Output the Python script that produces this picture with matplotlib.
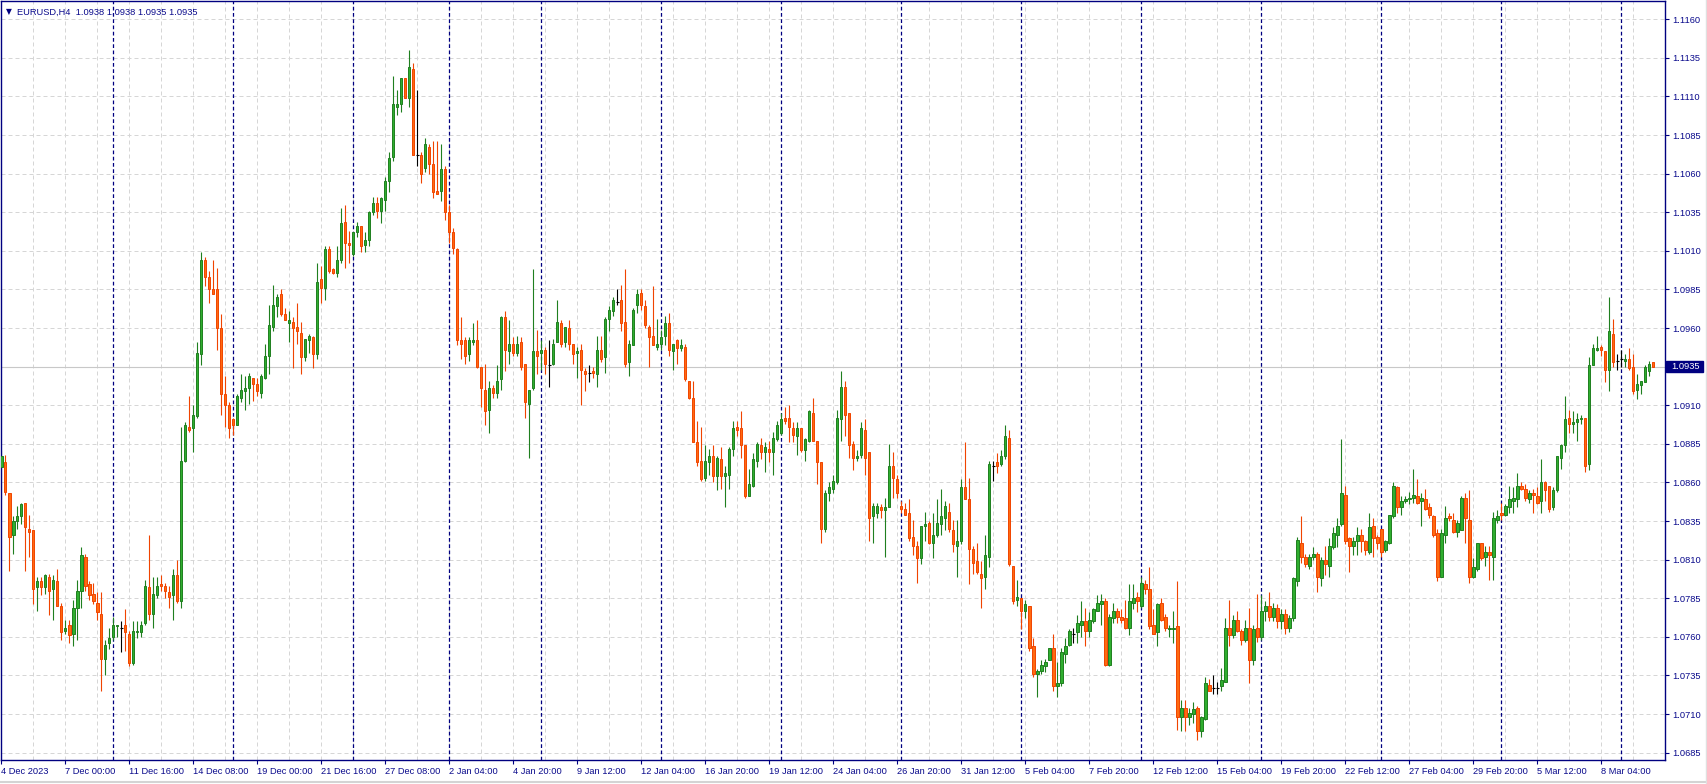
import numpy as np
import matplotlib
matplotlib.use("Agg")
from matplotlib import pyplot as plt
from matplotlib.patches import Rectangle
from matplotlib.lines import Line2D

# EURUSD H4 candles (open / high / low / close)
opens = [
    1.0870, 1.0873, 1.0853, 1.0826, 1.0835, 1.0838, 1.0847, 1.0830, 1.0829, 1.0792,
    1.0796, 1.0792, 1.0799, 1.0791, 1.0796, 1.0780, 1.0764, 1.0768, 1.0762, 1.0779,
    1.0790, 1.0812, 1.0794, 1.0788, 1.0782, 1.0775, 1.0746, 1.0756, 1.0760, 1.0767,
    1.0766, 1.0768, 1.0762, 1.0743, 1.0763, 1.0763, 1.0769, 1.0792, 1.0775, 1.0787,
    1.0794, 1.0793, 1.0789, 1.0787, 1.0800, 1.0783, 1.0874, 1.0896, 1.0895, 1.0903,
    1.0943, 1.1004, 1.0993, 1.0985, 1.0985, 1.0960, 1.0917, 1.0910, 1.0901, 1.0897,
    1.0915, 1.0919, 1.0921, 1.0928, 1.0924, 1.0918, 1.0928, 1.0942, 1.0961, 1.0974,
    1.0982, 1.0969, 1.0963, 1.0964, 1.0961, 1.0957, 1.0941, 1.0952, 1.0954, 1.0943,
    1.0992, 1.0986, 1.1011, 1.0998, 1.0996, 1.1004, 1.1029, 1.1015, 1.1008, 1.1022,
    1.1026, 1.1014, 1.1017, 1.1035, 1.1041, 1.1036, 1.1043, 1.1055, 1.1071, 1.1103,
    1.1105, 1.1122, 1.1109, 1.1128, 1.1072, 1.1072, 1.1064, 1.1077, 1.1066, 1.1049,
    1.1049, 1.1063, 1.1035, 1.1022, 1.1011, 1.0952, 1.0952, 1.0943, 1.0951, 1.0952,
    1.0935, 1.0920, 1.0907, 1.0921, 1.0918, 1.0927, 1.0967, 1.0945, 1.0950, 1.0944,
    1.0951, 1.0937, 1.0911, 1.0921, 1.0945, 1.0944, 1.0946, 1.0936, 1.0937, 1.0951,
    1.0963, 1.0951, 1.0960, 1.0950, 1.0944, 1.0946, 1.0932, 1.0931, 1.0932, 1.0930,
    1.0946, 1.0941, 1.0966, 1.0971, 1.0977, 1.0978, 1.0964, 1.0938, 1.0949, 1.0975,
    1.0983, 1.0974, 1.0961, 1.0955, 1.0948, 1.0950, 1.0955, 1.0963, 1.0945, 1.0952,
    1.0947, 1.0948, 1.0926, 1.0915, 1.0886, 1.0874, 1.0863, 1.0873, 1.0877, 1.0864,
    1.0875, 1.0864, 1.0865, 1.0882, 1.0896, 1.0895, 1.0884, 1.0851, 1.0858, 1.0874,
    1.0884, 1.0880, 1.0882, 1.0880, 1.0888, 1.0892, 1.0902, 1.0902, 1.0895, 1.0890,
    1.0895, 1.0881, 1.0887, 1.0905, 1.0887, 1.0873, 1.0830, 1.0853, 1.0856, 1.0860,
    1.0901, 1.0922, 1.0905, 1.0885, 1.0876, 1.0878, 1.0894, 1.0880, 1.0838, 1.0840,
    1.0844, 1.0842, 1.0844, 1.0871, 1.0862, 1.0845, 1.0843, 1.0840, 1.0825, 1.0819,
    1.0811, 1.0832, 1.0834, 1.0821, 1.0826, 1.0833, 1.0837, 1.0841, 1.0829, 1.0819,
    1.0822, 1.0857, 1.0849, 1.0817, 1.0809, 1.0801, 1.0799, 1.0812, 1.0871, 1.0873,
    1.0872, 1.0877, 1.0889, 1.0806, 1.0784, 1.0785, 1.0777, 1.0780, 1.0754, 1.0736,
    1.0738, 1.0741, 1.0745, 1.0753, 1.0728, 1.0730, 1.0749, 1.0755, 1.0762, 1.0763,
    1.0768, 1.0770, 1.0764, 1.0770, 1.0777, 1.0781, 1.0783, 1.0742, 1.0772, 1.0777,
    1.0773, 1.0772, 1.0766, 1.0782, 1.0786, 1.0780, 1.0794, 1.0791, 1.0768, 1.0763,
    1.0782, 1.0773, 1.0765, 1.0765, 1.0767, 1.0708, 1.0714, 1.0708, 1.0710, 1.0714,
    1.0699, 1.0707, 1.0729, 1.0727, 1.0727, 1.0728, 1.0731, 1.0766, 1.0761, 1.0771,
    1.0764, 1.0758, 1.0766, 1.0745, 1.0766, 1.0760, 1.0777, 1.0780, 1.0773, 1.0779,
    1.0770, 1.0775, 1.0766, 1.0772, 1.0796, 1.0821, 1.0812, 1.0806, 1.0812, 1.0814,
    1.0798, 1.0810, 1.0806, 1.0818, 1.0826, 1.0833, 1.0852, 1.0824, 1.0819, 1.0822,
    1.0826, 1.0822, 1.0815, 1.0832, 1.0825, 1.0830, 1.0816, 1.0821, 1.0838, 1.0857,
    1.0844, 1.0848, 1.0849, 1.0850, 1.0851, 1.0848, 1.0849, 1.0844, 1.0838, 1.0827,
    1.0799, 1.0826, 1.0838, 1.0836, 1.0828, 1.0829, 1.0850, 1.0836, 1.0799, 1.0804,
    1.0821, 1.0812, 1.0815, 1.0812, 1.0836, 1.0840, 1.0839, 1.0844, 1.0848, 1.0849,
    1.0858, 1.0856, 1.0849, 1.0853, 1.0851, 1.0848, 1.0860, 1.0858, 1.0844, 1.0855,
    1.0876, 1.0884, 1.0902, 1.0898, 1.0899, 1.0901, 1.0902, 1.0872, 1.0936, 1.0946,
    1.0948, 1.0945, 1.0933, 1.0956, 1.0939, 1.0940, 1.0939, 1.0940, 1.0935, 1.0920,
    1.0923, 1.0925, 1.0932, 1.0938,
]
highs = [
    1.0881, 1.0878, 1.0853, 1.0838, 1.0845, 1.0847, 1.0847, 1.0839, 1.0829, 1.0799,
    1.0799, 1.0801, 1.0801, 1.0800, 1.0804, 1.0782, 1.0771, 1.0771, 1.0784, 1.0797,
    1.0818, 1.0814, 1.0796, 1.0795, 1.0789, 1.0789, 1.0758, 1.0766, 1.0773, 1.0768,
    1.0770, 1.0778, 1.0764, 1.0770, 1.0770, 1.0770, 1.0797, 1.0826, 1.0799, 1.0799,
    1.0800, 1.0795, 1.0793, 1.0804, 1.0810, 1.0896, 1.0899, 1.0916, 1.0910, 1.0951,
    1.1009, 1.1006, 1.0997, 1.1004, 1.0999, 1.0969, 1.0929, 1.0912, 1.0902, 1.0917,
    1.0930, 1.0929, 1.0931, 1.0928, 1.0928, 1.0930, 1.0950, 1.0975, 1.0988, 1.0982,
    1.0985, 1.0973, 1.0971, 1.0967, 1.0976, 1.0964, 1.0953, 1.0956, 1.0955, 1.1002,
    1.1000, 1.1013, 1.1013, 1.0999, 1.1013, 1.1038, 1.1040, 1.1023, 1.1022, 1.1029,
    1.1026, 1.1022, 1.1036, 1.1045, 1.1045, 1.1045, 1.1058, 1.1074, 1.1123, 1.1114,
    1.1122, 1.1122, 1.1140, 1.1132, 1.1114, 1.1074, 1.1083, 1.1079, 1.1081, 1.1081,
    1.1079, 1.1065, 1.1040, 1.1025, 1.1012, 1.0967, 1.0954, 1.0954, 1.0963, 1.0965,
    1.0935, 1.0937, 1.0926, 1.0923, 1.0936, 1.0968, 1.0971, 1.0965, 1.0954, 1.0955,
    1.0954, 1.0937, 1.0920, 1.0998, 1.0959, 1.0952, 1.0948, 1.0952, 1.0953, 1.0978,
    1.0965, 1.0961, 1.0965, 1.0950, 1.0948, 1.0950, 1.0934, 1.0936, 1.0935, 1.0955,
    1.0955, 1.0967, 1.0974, 1.0980, 1.0985, 1.0988, 1.0998, 1.0952, 1.0973, 1.0985,
    1.0985, 1.0978, 1.0962, 1.0987, 1.0966, 1.0959, 1.0968, 1.0970, 1.0950, 1.0953,
    1.0953, 1.0950, 1.0926, 1.0926, 1.0900, 1.0896, 1.0884, 1.0882, 1.0884, 1.0877,
    1.0883, 1.0871, 1.0883, 1.0900, 1.0900, 1.0906, 1.0884, 1.0869, 1.0879, 1.0886,
    1.0889, 1.0886, 1.0887, 1.0893, 1.0900, 1.0905, 1.0909, 1.0910, 1.0899, 1.0899,
    1.0895, 1.0889, 1.0907, 1.0915, 1.0887, 1.0873, 1.0855, 1.0860, 1.0865, 1.0907,
    1.0932, 1.0926, 1.0905, 1.0887, 1.0881, 1.0899, 1.0901, 1.0880, 1.0847, 1.0847,
    1.0846, 1.0850, 1.0885, 1.0880, 1.0865, 1.0848, 1.0847, 1.0849, 1.0836, 1.0822,
    1.0832, 1.0841, 1.0835, 1.0840, 1.0849, 1.0856, 1.0848, 1.0847, 1.0836, 1.0836,
    1.0862, 1.0886, 1.0863, 1.0819, 1.0821, 1.0809, 1.0826, 1.0874, 1.0874, 1.0879,
    1.0881, 1.0897, 1.0894, 1.0806, 1.0797, 1.0785, 1.0784, 1.0780, 1.0759, 1.0739,
    1.0745, 1.0746, 1.0753, 1.0762, 1.0744, 1.0753, 1.0759, 1.0765, 1.0766, 1.0774,
    1.0783, 1.0779, 1.0776, 1.0779, 1.0787, 1.0788, 1.0785, 1.0775, 1.0782, 1.0779,
    1.0778, 1.0784, 1.0794, 1.0794, 1.0789, 1.0799, 1.0797, 1.0805, 1.0778, 1.0782,
    1.0785, 1.0775, 1.0768, 1.0777, 1.0796, 1.0719, 1.0719, 1.0714, 1.0718, 1.0715,
    1.0709, 1.0734, 1.0733, 1.0735, 1.0731, 1.0740, 1.0772, 1.0784, 1.0774, 1.0777,
    1.0765, 1.0771, 1.0779, 1.0768, 1.0788, 1.0787, 1.0783, 1.0789, 1.0782, 1.0781,
    1.0778, 1.0778, 1.0774, 1.0799, 1.0825, 1.0838, 1.0814, 1.0814, 1.0818, 1.0815,
    1.0812, 1.0819, 1.0824, 1.0831, 1.0837, 1.0888, 1.0858, 1.0825, 1.0825, 1.0831,
    1.0830, 1.0823, 1.0840, 1.0837, 1.0826, 1.0830, 1.0823, 1.0839, 1.0860, 1.0858,
    1.0851, 1.0851, 1.0854, 1.0869, 1.0862, 1.0853, 1.0856, 1.0847, 1.0839, 1.0830,
    1.0830, 1.0845, 1.0840, 1.0840, 1.0836, 1.0851, 1.0853, 1.0855, 1.0811, 1.0821,
    1.0821, 1.0819, 1.0819, 1.0841, 1.0842, 1.0847, 1.0846, 1.0858, 1.0857, 1.0866,
    1.0860, 1.0859, 1.0855, 1.0856, 1.0857, 1.0875, 1.0861, 1.0858, 1.0857, 1.0877,
    1.0885, 1.0916, 1.0907, 1.0906, 1.0905, 1.0904, 1.0902, 1.0941, 1.0950, 1.0955,
    1.0949, 1.0945, 1.0980, 1.0966, 1.0943, 1.0946, 1.0943, 1.0947, 1.0943, 1.0930,
    1.0926, 1.0936, 1.0939, 1.0938,
]
lows = [
    1.0849, 1.0852, 1.0803, 1.0814, 1.0830, 1.0833, 1.0803, 1.0812, 1.0781, 1.0777,
    1.0787, 1.0788, 1.0774, 1.0771, 1.0780, 1.0758, 1.0762, 1.0756, 1.0754, 1.0758,
    1.0779, 1.0790, 1.0784, 1.0781, 1.0771, 1.0725, 1.0735, 1.0752, 1.0758, 1.0760,
    1.0750, 1.0751, 1.0741, 1.0742, 1.0759, 1.0760, 1.0768, 1.0771, 1.0766, 1.0785,
    1.0790, 1.0785, 1.0779, 1.0771, 1.0782, 1.0779, 1.0873, 1.0893, 1.0880, 1.0902,
    1.0936, 1.0987, 1.0976, 1.0982, 1.0946, 1.0904, 1.0896, 1.0889, 1.0891, 1.0897,
    1.0912, 1.0907, 1.0911, 1.0913, 1.0916, 1.0915, 1.0927, 1.0930, 1.0958, 1.0967,
    1.0968, 1.0965, 1.0951, 1.0934, 1.0950, 1.0930, 1.0939, 1.0944, 1.0934, 1.0940,
    1.0976, 1.0978, 1.0996, 1.0995, 1.0993, 1.1002, 1.0999, 1.1002, 1.1007, 1.1019,
    1.1009, 1.1009, 1.1013, 1.1033, 1.1031, 1.1028, 1.1036, 1.1048, 1.1068, 1.1098,
    1.1100, 1.1109, 1.1103, 1.1072, 1.1065, 1.1054, 1.1061, 1.1060, 1.1044, 1.1047,
    1.1042, 1.1030, 1.1015, 1.1008, 1.0949, 1.0940, 1.0937, 1.0939, 1.0949, 1.0934,
    1.0909, 1.0897, 1.0892, 1.0915, 1.0915, 1.0920, 1.0932, 1.0937, 1.0942, 1.0942,
    1.0933, 1.0902, 1.0876, 1.0920, 1.0930, 1.0933, 1.0930, 1.0922, 1.0936, 1.0951,
    1.0948, 1.0948, 1.0946, 1.0937, 1.0928, 1.0910, 1.0919, 1.0925, 1.0928, 1.0922,
    1.0938, 1.0931, 1.0958, 1.0968, 1.0975, 1.0958, 1.0935, 1.0929, 1.0949, 1.0970,
    1.0972, 1.0960, 1.0935, 1.0949, 1.0946, 1.0946, 1.0949, 1.0942, 1.0933, 1.0937,
    1.0945, 1.0926, 1.0914, 1.0886, 1.0871, 1.0861, 1.0861, 1.0865, 1.0860, 1.0855,
    1.0856, 1.0844, 1.0856, 1.0877, 1.0890, 1.0876, 1.0850, 1.0851, 1.0857, 1.0870,
    1.0875, 1.0867, 1.0873, 1.0865, 1.0887, 1.0891, 1.0898, 1.0886, 1.0886, 1.0878,
    1.0880, 1.0874, 1.0886, 1.0887, 1.0859, 1.0821, 1.0828, 1.0848, 1.0853, 1.0859,
    1.0887, 1.0890, 1.0876, 1.0868, 1.0874, 1.0876, 1.0865, 1.0822, 1.0821, 1.0837,
    1.0837, 1.0812, 1.0844, 1.0850, 1.0850, 1.0840, 1.0839, 1.0822, 1.0813, 1.0795,
    1.0807, 1.0822, 1.0820, 1.0811, 1.0825, 1.0826, 1.0829, 1.0828, 1.0815, 1.0799,
    1.0820, 1.0849, 1.0794, 1.0801, 1.0801, 1.0779, 1.0791, 1.0805, 1.0861, 1.0866,
    1.0871, 1.0875, 1.0806, 1.0781, 1.0780, 1.0765, 1.0772, 1.0751, 1.0734, 1.0721,
    1.0736, 1.0737, 1.0745, 1.0725, 1.0721, 1.0728, 1.0743, 1.0754, 1.0756, 1.0756,
    1.0760, 1.0754, 1.0760, 1.0769, 1.0777, 1.0768, 1.0741, 1.0741, 1.0769, 1.0769,
    1.0769, 1.0765, 1.0761, 1.0778, 1.0776, 1.0779, 1.0788, 1.0765, 1.0762, 1.0754,
    1.0770, 1.0764, 1.0760, 1.0756, 1.0700, 1.0699, 1.0699, 1.0703, 1.0704, 1.0693,
    1.0695, 1.0706, 1.0725, 1.0723, 1.0723, 1.0725, 1.0731, 1.0754, 1.0759, 1.0763,
    1.0755, 1.0757, 1.0730, 1.0742, 1.0757, 1.0758, 1.0770, 1.0770, 1.0770, 1.0766,
    1.0765, 1.0762, 1.0763, 1.0770, 1.0793, 1.0808, 1.0805, 1.0804, 1.0810, 1.0789,
    1.0793, 1.0800, 1.0799, 1.0817, 1.0818, 1.0832, 1.0820, 1.0802, 1.0813, 1.0813,
    1.0815, 1.0813, 1.0814, 1.0812, 1.0817, 1.0812, 1.0815, 1.0820, 1.0837, 1.0840,
    1.0839, 1.0847, 1.0846, 1.0847, 1.0846, 1.0832, 1.0842, 1.0837, 1.0825, 1.0796,
    1.0799, 1.0821, 1.0835, 1.0827, 1.0825, 1.0829, 1.0821, 1.0795, 1.0798, 1.0803,
    1.0810, 1.0806, 1.0797, 1.0797, 1.0834, 1.0836, 1.0838, 1.0840, 1.0840, 1.0844,
    1.0855, 1.0848, 1.0847, 1.0840, 1.0846, 1.0840, 1.0848, 1.0841, 1.0842, 1.0854,
    1.0869, 1.0880, 1.0892, 1.0892, 1.0887, 1.0898, 1.0867, 1.0868, 1.0936, 1.0945,
    1.0942, 1.0925, 1.0919, 1.0935, 1.0933, 1.0935, 1.0935, 1.0933, 1.0917, 1.0914,
    1.0917, 1.0925, 1.0929, 1.0935,
]
closes = [
    1.0877, 1.0854, 1.0825, 1.0835, 1.0838, 1.0846, 1.0831, 1.0828, 1.0791, 1.0796,
    1.0792, 1.0800, 1.0790, 1.0797, 1.0780, 1.0763, 1.0766, 1.0761, 1.0779, 1.0790,
    1.0813, 1.0793, 1.0787, 1.0783, 1.0776, 1.0746, 1.0755, 1.0759, 1.0768, 1.0768,
    1.0766, 1.0763, 1.0743, 1.0764, 1.0764, 1.0768, 1.0793, 1.0775, 1.0788, 1.0793,
    1.0793, 1.0790, 1.0786, 1.0800, 1.0783, 1.0874, 1.0897, 1.0894, 1.0904, 1.0944,
    1.1004, 1.0993, 1.0985, 1.0982, 1.0960, 1.0917, 1.0910, 1.0895, 1.0897, 1.0916,
    1.0920, 1.0921, 1.0929, 1.0924, 1.0919, 1.0929, 1.0942, 1.0962, 1.0975, 1.0980,
    1.0969, 1.0965, 1.0965, 1.0960, 1.0958, 1.0941, 1.0953, 1.0955, 1.0943, 1.0990,
    1.0986, 1.1011, 1.0997, 1.0996, 1.1004, 1.1028, 1.1015, 1.1014, 1.1022, 1.1026,
    1.1013, 1.1017, 1.1035, 1.1041, 1.1036, 1.1044, 1.1055, 1.1070, 1.1105, 1.1105,
    1.1122, 1.1109, 1.1129, 1.1072, 1.1072, 1.1060, 1.1079, 1.1066, 1.1048, 1.1047,
    1.1063, 1.1035, 1.1022, 1.1012, 1.0952, 1.0950, 1.0942, 1.0952, 1.0952, 1.0935,
    1.0921, 1.0906, 1.0921, 1.0918, 1.0926, 1.0967, 1.0946, 1.0950, 1.0944, 1.0950,
    1.0935, 1.0912, 1.0920, 1.0945, 1.0942, 1.0946, 1.0937, 1.0936, 1.0950, 1.0964,
    1.0950, 1.0961, 1.0950, 1.0943, 1.0945, 1.0933, 1.0930, 1.0931, 1.0931, 1.0946,
    1.0940, 1.0966, 1.0972, 1.0978, 1.0977, 1.0963, 1.0937, 1.0950, 1.0972, 1.0982,
    1.0975, 1.0962, 1.0954, 1.0949, 1.0950, 1.0954, 1.0963, 1.0946, 1.0950, 1.0947,
    1.0949, 1.0927, 1.0915, 1.0886, 1.0873, 1.0862, 1.0874, 1.0877, 1.0864, 1.0876,
    1.0864, 1.0866, 1.0882, 1.0895, 1.0894, 1.0884, 1.0851, 1.0859, 1.0875, 1.0885,
    1.0880, 1.0883, 1.0880, 1.0889, 1.0897, 1.0901, 1.0900, 1.0896, 1.0891, 1.0895,
    1.0881, 1.0888, 1.0906, 1.0887, 1.0873, 1.0830, 1.0853, 1.0857, 1.0861, 1.0902,
    1.0922, 1.0904, 1.0884, 1.0876, 1.0877, 1.0895, 1.0876, 1.0837, 1.0845, 1.0845,
    1.0842, 1.0844, 1.0871, 1.0863, 1.0853, 1.0843, 1.0839, 1.0824, 1.0819, 1.0811,
    1.0832, 1.0833, 1.0821, 1.0826, 1.0834, 1.0838, 1.0845, 1.0830, 1.0820, 1.0822,
    1.0857, 1.0849, 1.0817, 1.0808, 1.0802, 1.0798, 1.0813, 1.0872, 1.0871, 1.0871,
    1.0877, 1.0890, 1.0807, 1.0783, 1.0786, 1.0777, 1.0781, 1.0753, 1.0736, 1.0738,
    1.0742, 1.0744, 1.0753, 1.0728, 1.0730, 1.0750, 1.0754, 1.0764, 1.0762, 1.0769,
    1.0770, 1.0764, 1.0771, 1.0778, 1.0782, 1.0783, 1.0742, 1.0773, 1.0777, 1.0773,
    1.0771, 1.0766, 1.0783, 1.0785, 1.0783, 1.0795, 1.0791, 1.0767, 1.0762, 1.0781,
    1.0771, 1.0766, 1.0766, 1.0766, 1.0708, 1.0714, 1.0708, 1.0711, 1.0713, 1.0699,
    1.0708, 1.0730, 1.0725, 1.0727, 1.0727, 1.0732, 1.0766, 1.0761, 1.0771, 1.0764,
    1.0758, 1.0766, 1.0745, 1.0765, 1.0760, 1.0777, 1.0780, 1.0773, 1.0779, 1.0770,
    1.0775, 1.0766, 1.0772, 1.0798, 1.0823, 1.0812, 1.0807, 1.0812, 1.0814, 1.0799,
    1.0810, 1.0807, 1.0819, 1.0827, 1.0832, 1.0853, 1.0822, 1.0819, 1.0822, 1.0826,
    1.0822, 1.0816, 1.0831, 1.0824, 1.0821, 1.0815, 1.0822, 1.0839, 1.0858, 1.0844,
    1.0848, 1.0849, 1.0850, 1.0852, 1.0847, 1.0850, 1.0843, 1.0839, 1.0826, 1.0799,
    1.0827, 1.0837, 1.0837, 1.0828, 1.0834, 1.0850, 1.0837, 1.0799, 1.0805, 1.0821,
    1.0811, 1.0815, 1.0813, 1.0837, 1.0838, 1.0839, 1.0845, 1.0849, 1.0850, 1.0858,
    1.0856, 1.0850, 1.0853, 1.0852, 1.0847, 1.0860, 1.0855, 1.0843, 1.0855, 1.0877,
    1.0884, 1.0901, 1.0898, 1.0899, 1.0901, 1.0902, 1.0871, 1.0936, 1.0947, 1.0947,
    1.0946, 1.0933, 1.0958, 1.0938, 1.0939, 1.0940, 1.0940, 1.0934, 1.0919, 1.0924,
    1.0926, 1.0935, 1.0937, 1.0935,
]

date_labels = ["4 Dec 2023", "7 Dec 00:00", "11 Dec 16:00", "14 Dec 08:00", "19 Dec 00:00",
               "21 Dec 16:00", "27 Dec 08:00", "2 Jan 04:00", "4 Jan 20:00", "9 Jan 12:00",
               "12 Jan 04:00", "16 Jan 20:00", "19 Jan 12:00", "24 Jan 04:00", "26 Jan 20:00",
               "31 Jan 12:00", "5 Feb 04:00", "7 Feb 20:00", "12 Feb 12:00", "15 Feb 04:00",
               "19 Feb 20:00", "22 Feb 12:00", "27 Feb 04:00", "29 Feb 20:00", "5 Mar 12:00",
               "8 Mar 04:00"]
bars_per_label = 16
week_starts = [28, 58, 88, 112, 135, 165, 195, 225, 255, 285, 315, 345, 375, 405]
price_ticks = [1.0685, 1.0710, 1.0735, 1.0760, 1.0785, 1.0810, 1.0835, 1.0860, 1.0885, 1.0910,
               1.0935, 1.0960, 1.0985, 1.1010, 1.1035, 1.1060, 1.1085, 1.1110, 1.1135, 1.1160]
bid = 1.0935
header = "EURUSD,H4  1.0938 1.0938 1.0935 1.0935"

plt.rcParams['font.family'] = ['Liberation Sans', 'DejaVu Sans']
navy = '#000080'
txt = '#0a0a8c'
up_face, up_edge = '#2fae2f', '#1f7f1f'
dn_face, dn_edge = '#ff6a10', '#f04400'

W, H = 1708, 784
fig = plt.figure(figsize=(W / 100, H / 100), dpi=100)
fig.patch.set_facecolor('white')
ax = fig.add_axes([1 / W, 24 / H, 1664 / W, 759 / H])

o = np.array(opens)
h = np.array(highs)
l = np.array(lows)
c = np.array(closes)
x = np.arange(len(o))
up = c > o
dn = c < o
dj = c == o

ax.set_xlim(-0.1, 415.9)
ax.set_ylim(1.068027, 1.117185)

# grid, week separators and bid line
for p in price_ticks:
    ax.axhline(p, color='#d6d6d6', lw=0.72, ls=(0, (4, 3)), zorder=0)
for k in range(0, 416, 8):
    ax.axvline(k, color='#d6d6d6', lw=0.72, ls=(0, (4, 3)), zorder=0)
for k in week_starts:
    ax.axvline(k, color=navy, lw=0.9, ls=(0, (3, 2)), zorder=1)
ax.axhline(bid, color='#c8c8c8', lw=0.8, zorder=0.5)

# candles
ax.vlines(x[up], l[up], h[up], color=up_edge, lw=0.8, zorder=2)
ax.vlines(x[dn], l[dn], h[dn], color=dn_edge, lw=0.8, zorder=2)
ax.vlines(x[dj], l[dj], h[dj], color='black', lw=0.8, zorder=2)
ax.bar(x[up], c[up] - o[up], bottom=o[up], width=0.55, color=up_face,
       edgecolor=up_edge, lw=0.7, zorder=3)
ax.bar(x[dn], o[dn] - c[dn], bottom=c[dn], width=0.55, color=dn_face,
       edgecolor=dn_edge, lw=0.7, zorder=3)
ax.hlines(c[dj], x[dj] - 0.4, x[dj] + 0.4, color='black', lw=0.8, zorder=3)

for s in ax.spines.values():
    s.set_color(navy)
    s.set_linewidth(1.0)

ax.yaxis.tick_right()
ax.set_yticks(price_ticks)
ax.set_yticklabels(['' if abs(p - bid) < 1e-9 else '%.4f' % p for p in price_ticks])
ax.tick_params(axis='y', direction='out', length=3, width=0.8, color=navy,
               labelcolor=txt, labelsize=6.7, pad=2)

ax.set_xticks([i * bars_per_label for i in range(len(date_labels))])
ax.set_xticklabels(date_labels)
for t in ax.get_xticklabels():
    t.set_ha('left')
ax.tick_params(axis='x', direction='out', length=3, width=0.8, color=navy,
               labelcolor=txt, labelsize=6.7, pad=2)

# header at top-left
ax.text(5 / 1664, 1 - 11 / 759, u"\u25bc", transform=ax.transAxes, fontsize=5.5,
        color=navy, va='center', ha='left', family=['DejaVu Sans'])
ax.text(16 / 1664, 1 - 11 / 759, header, transform=ax.transAxes, fontsize=6.7,
        color=txt, va='center', ha='left')

# bid price box on the right scale
fig.canvas.draw()
yb = ax.transData.transform((0, bid))[1]
fig.patches.append(Rectangle((1666 / W, (yb - 5.5) / H), 37 / W, 11 / H,
                             transform=fig.transFigure, facecolor=navy,
                             edgecolor=navy, zorder=5))
fig.text(1671 / W, yb / H, '%.4f' % bid, color='white', fontsize=6.7,
         va='center', ha='left', zorder=6)

fig.add_artist(Line2D([0, 1], [2.5 / H, 2.5 / H], transform=fig.transFigure,
                      color='#d4d4d4', lw=1.5))
fig.add_artist(Line2D([1706 / W, 1706 / W], [0, 1], transform=fig.transFigure,
                      color='#e0e0e0', lw=1.0))

fig.savefig('out.png', dpi=100)
